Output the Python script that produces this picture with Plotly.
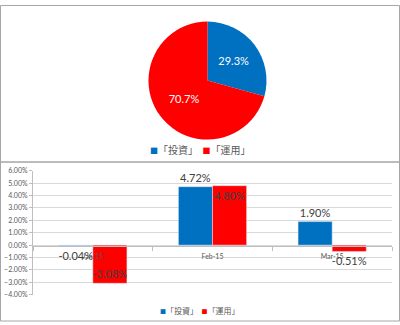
import plotly.graph_objects as go

# Data
pie_labels = ["「投資」", "「運用」"]
pie_values = [29.3, 70.7]

months = ["Jan-15", "Feb-15", "Mar-15"]
series_names = ["「投資」", "「運用」"]
toushi = [-0.0004, 0.0472, 0.0190]
unyou = [-0.0308, 0.0480, -0.0051]

y_ticks = [-0.04, -0.03, -0.02, -0.01, 0.0, 0.01, 0.02, 0.03, 0.04, 0.05, 0.06]

BLUE = "#0070C0"
RED = "#FF0000"
COLORS = [BLUE, RED]
FONT = "Lato, Noto Sans CJK JP, sans-serif"
JFONT = "Noto Sans CJK JP, Lato, sans-serif"

W, H = 400, 325
def px(y):
    return 1 - y / H

fig = go.Figure()

fig.add_trace(go.Pie(
    labels=pie_labels, values=pie_values,
    sort=False, direction="clockwise", rotation=0,
    marker=dict(colors=COLORS, line=dict(color="white", width=0)),
    texttemplate="%{value:.1f}%", textposition="inside",
    insidetextorientation="horizontal",
    textfont=dict(color="white", size=11, family=FONT),
    domain=dict(x=[147 / W, 268 / W], y=[px(138), px(17)]),
    showlegend=False, hoverinfo="skip",
))

fig.add_trace(go.Bar(
    x=months, y=toushi, name=series_names[0], marker_color=BLUE,
    text=[f"{v*100:.2f}%" for v in toushi], textposition="outside",
    textangle=0, constraintext="none",
    textfont=dict(color="#404040", size=11, family=FONT),
    cliponaxis=False, showlegend=False,
))
fig.add_trace(go.Bar(
    x=months, y=unyou, name=series_names[1], marker_color=RED,
    text=[f"{v*100:.2f}%" for v in unyou],
    textposition=["inside", "inside", "outside"], insidetextanchor="end",
    textangle=0, constraintext="none",
    textfont=dict(color="#404040", size=11, family=FONT),
    cliponaxis=False, showlegend=False,
))


def legend_text(names, size):
    parts = []
    for n, c in zip(names, COLORS):
        parts.append(f"<span style='color:{c};font-size:{size}px'>■</span>{n}")
    return "  ".join(parts)


fig.update_layout(
    width=W, height=H,
    margin=dict(l=0, r=0, t=0, b=0),
    paper_bgcolor="white", plot_bgcolor="white",
    font=dict(family=FONT, color="#595959"),
    barmode="group", bargap=0.43, bargroupgap=0,
    xaxis=dict(domain=[33 / W, 392 / W], anchor="free", position=px(247),
               type="category", showline=True, linecolor="#bfbfbf", linewidth=1,
               ticks="outside", tickson="boundaries", ticklen=4, tickcolor="#bfbfbf",
               ticklabelstandoff=4,
               tickfont=dict(size=7, color="#595959"), showgrid=False, zeroline=False),
    yaxis=dict(domain=[px(297), px(170)], range=[-0.04, 0.06],
               tickvals=y_ticks, tickformat=".2%",
               showline=True, linecolor="#bfbfbf", linewidth=1,
               ticks="outside", ticklen=3, tickcolor="#bfbfbf",
               tickfont=dict(size=7, color="#595959"),
               showgrid=True, gridcolor="#d9d9d9", gridwidth=1, zeroline=False),
    annotations=[
        dict(text=legend_text(pie_labels, 8), xref="paper", yref="paper",
             x=0.5, y=px(148), xanchor="center", yanchor="middle", showarrow=False,
             font=dict(size=10, family=JFONT, color="#595959")),
        dict(text=legend_text(series_names, 6), xref="paper", yref="paper",
             x=0.5, y=px(313), xanchor="center", yanchor="middle", showarrow=False,
             font=dict(size=8, family=JFONT, color="#595959")),
    ],
    shapes=[
        dict(type="rect", xref="paper", yref="paper", x0=0.5 / W, x1=399.5 / W,
             y0=px(161), y1=px(0.5), line=dict(color="#a6a6a6", width=1)),
        dict(type="rect", xref="paper", yref="paper", x0=0.5 / W, x1=399.5 / W,
             y0=px(324), y1=px(161), line=dict(color="#a6a6a6", width=1)),
    ],
)

fig.write_html("out.html")
